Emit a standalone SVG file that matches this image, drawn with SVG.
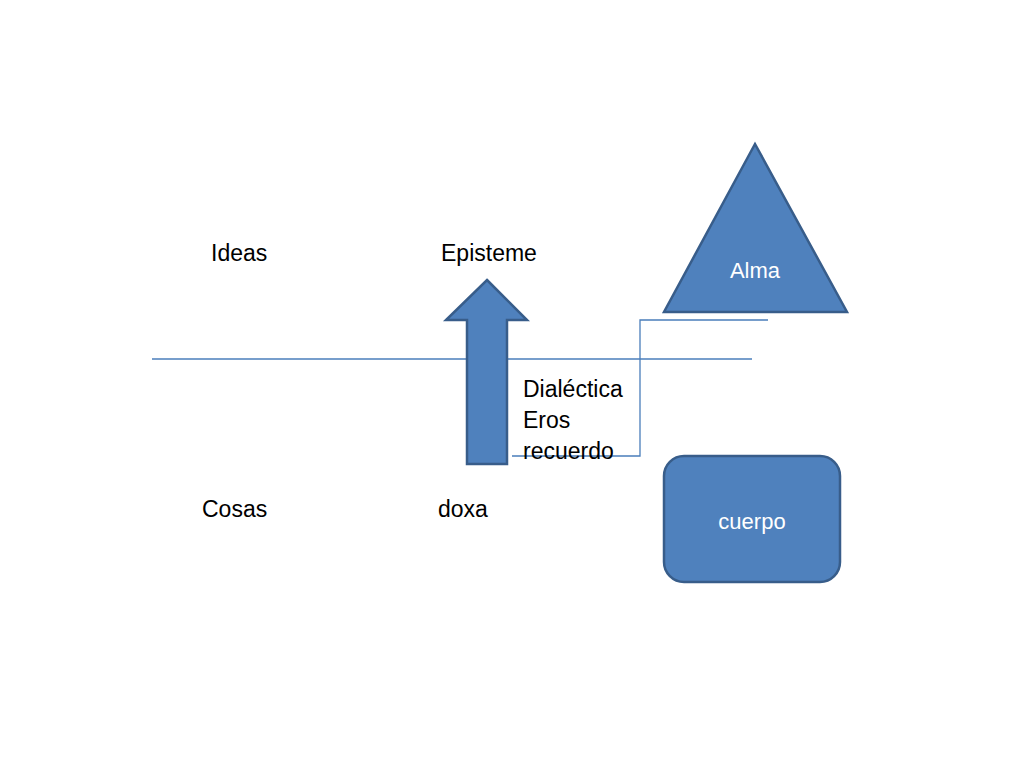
<svg xmlns="http://www.w3.org/2000/svg" width="1024" height="768" viewBox="0 0 1024 768">
<style>
.t{font-family:"Liberation Sans","Open Sans",sans-serif;font-size:23px;fill:#000}
.w{font-family:"Liberation Sans","Open Sans",sans-serif;font-size:22px;fill:#fff;text-anchor:middle}
.shape{fill:#4f81bd;stroke:#385d8a;stroke-width:2.5}
.ln{fill:none;stroke:#4a7ebb;stroke-width:1.3}
</style>
<rect width="1024" height="768" fill="#fff"/>
<g id="connectors">
<line class="ln" x1="152" y1="359" x2="752" y2="359"/>
<polyline class="ln" points="512,456 640,456 640,320 768,320"/>
</g>
<g id="arrow">
<polygon class="shape" points="487,280 527,320 507,320 507,464 467,464 467,320 446,320"/>
</g>
<g id="alma">
<polygon class="shape" points="755,144 847,312 664,312"/>
<text class="w" x="755" y="278">Alma</text>
</g>
<g id="cuerpo">
<rect class="shape" x="664" y="456" width="176" height="126" rx="20"/>
<text class="w" x="752" y="529">cuerpo</text>
</g>
<g id="labels">
<text class="t" x="211" y="261">Ideas</text>
<text class="t" x="441" y="261">Episteme</text>
<text class="t" x="202" y="517">Cosas</text>
<text class="t" x="438" y="517">doxa</text>
<text class="t" x="523" y="397">Dialéctica</text>
<text class="t" x="523" y="428">Eros</text>
<text class="t" x="523" y="459">recuerdo</text>
</g>
</svg>
